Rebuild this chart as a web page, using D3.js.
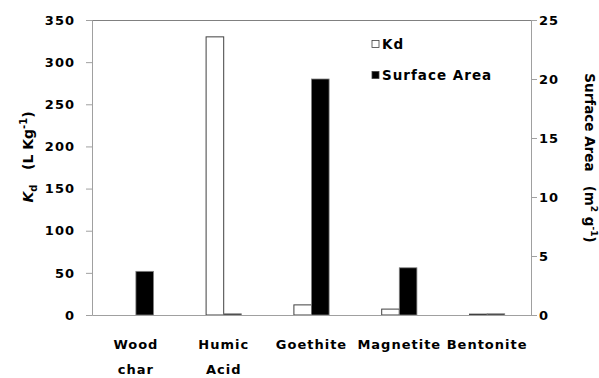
<!DOCTYPE html>
<html>
<head>
<meta charset="utf-8">
<script src="https://cdn.jsdelivr.net/npm/d3@7"></script>
<style>
  body { margin: 0; background: #fff; }
  text { font-family: "DejaVu Sans", sans-serif; font-weight: bold; fill: #000; letter-spacing: 1px; }
</style>
</head>
<body>
<script>
var width = 599,
    height = 378,
    margin = {top: 20, right: 68, bottom: 63, left: 92};

var categories = [["Wood", "char"], ["Humic", "Acid"], ["Goethite"], ["Magnetite"], ["Bentonite"]];
var kdValues = [0, 330, 12, 7, 1];
var areaValues = [3.7, 0.1, 20, 4, 0.1];
var kdTicks = [0, 50, 100, 150, 200, 250, 300, 350];
var areaTicks = [0, 5, 10, 15, 20, 25];

var svg = d3.select("body")
  .append("svg")
  .attr("width", width)
  .attr("height", height);

var x = d3.scaleBand()
  .domain(d3.range(categories.length))
  .range([margin.left, width - margin.right]);

var yKd = d3.scaleLinear()
  .domain([0, 350])
  .range([height - margin.bottom, margin.top]);

var yArea = d3.scaleLinear()
  .domain([0, 25])
  .range([height - margin.bottom, margin.top]);

var barW = 17.6;

// top frame line
svg.append("line")
  .attr("x1", margin.left).attr("x2", width - margin.right)
  .attr("y1", margin.top + 0.5).attr("y2", margin.top + 0.5)
  .attr("stroke", "#808080");

// bars
svg.append("g")
  .selectAll("rect")
  .data(kdValues)
  .enter().append("rect")
    .attr("x", function(d, i) { return x(i) + x.bandwidth() / 2 - barW; })
    .attr("y", function(d) { return yKd(d); })
    .attr("width", barW)
    .attr("height", function(d) { return yKd(0) - yKd(d); })
    .attr("fill", "#fff")
    .attr("stroke", function(d) { return d > 0 ? "#404040" : "none"; })
    .attr("stroke-width", 1);

svg.append("g")
  .selectAll("rect")
  .data(areaValues)
  .enter().append("rect")
    .attr("x", function(d, i) { return x(i) + x.bandwidth() / 2; })
    .attr("y", function(d) { return yArea(d); })
    .attr("width", barW)
    .attr("height", function(d) { return yArea(0) - yArea(d); })
    .attr("fill", "#000")
    .attr("stroke", "#808080")
    .attr("stroke-width", 0.8);

// axes
var left = svg.append("g")
  .attr("transform", "translate(" + margin.left + ",0)")
  .call(d3.axisLeft(yKd).tickValues(kdTicks).tickSize(6).tickPadding(11));

var right = svg.append("g")
  .attr("transform", "translate(" + (width - margin.right) + ",0)")
  .call(d3.axisRight(yArea).tickValues(areaTicks).tickSize(6).tickPadding(2));

var bottom = svg.append("g")
  .attr("transform", "translate(0," + (height - margin.bottom) + ")")
  .call(d3.axisBottom(x).tickSize(0).tickFormat(""));

[left, right, bottom].forEach(function(g) {
  g.select(".domain").attr("stroke", "#a0a0a0");
  g.selectAll(".tick line").attr("stroke", "#a0a0a0");
  g.selectAll(".tick text").attr("font-size", 13).attr("font-family", null).attr("fill", "#000");
});

// category labels
svg.append("g")
  .selectAll("text")
  .data(categories)
  .enter().append("text")
    .attr("x", function(d, i) { return x(i) + x.bandwidth() / 2; })
    .attr("y", 349)
    .attr("text-anchor", "middle")
    .attr("font-size", 13)
    .each(function(d) {
      var t = d3.select(this);
      d.forEach(function(line, j) {
        t.append("tspan")
          .attr("x", t.attr("x"))
          .attr("dy", j === 0 ? 0 : 25)
          .text(line);
      });
    });

// left title
var lt = svg.append("text")
  .attr("transform", "translate(33,157) rotate(-90)")
  .attr("text-anchor", "middle")
  .attr("font-size", 14)
  .style("letter-spacing", "0px");
lt.append("tspan").attr("font-style", "italic").text("K");
lt.append("tspan").attr("font-size", 10).attr("dy", 4).text("d");
lt.append("tspan").attr("dy", -4).text("\u00a0\u00a0 (L Kg");
lt.append("tspan").attr("font-size", 10).attr("dy", -6).text("-1");
lt.append("tspan").attr("dy", 6).text(")");

// right title
var rt = svg.append("text")
  .attr("transform", "translate(585,158) rotate(90)")
  .attr("text-anchor", "middle")
  .attr("font-size", 13.5)
  .style("letter-spacing", "0px");
rt.append("tspan").text("Surface Area\u00a0\u00a0 (m");
rt.append("tspan").attr("font-size", 9).attr("dy", -6).text("2");
rt.append("tspan").attr("dy", 6).text(" g");
rt.append("tspan").attr("font-size", 9).attr("dy", -6).text("-1");
rt.append("tspan").attr("dy", 6).text(")");

// legend
var legend = [["Kd", "#fff"], ["Surface Area", "#000"]];
var lg = svg.append("g")
  .selectAll("g")
  .data(legend)
  .enter().append("g")
    .attr("transform", function(d, i) { return "translate(372," + (44 + i * 31) + ")"; });

lg.append("rect")
  .attr("x", 0).attr("y", -3.5)
  .attr("width", 7).attr("height", 7)
  .attr("fill", function(d) { return d[1]; })
  .attr("stroke", "#404040")
  .attr("stroke-width", 0.8);

lg.append("text")
  .attr("x", 10)
  .attr("dy", "0.36em")
  .attr("font-size", 13.5)
  .text(function(d) { return d[0]; });
</script>
</body>
</html>
